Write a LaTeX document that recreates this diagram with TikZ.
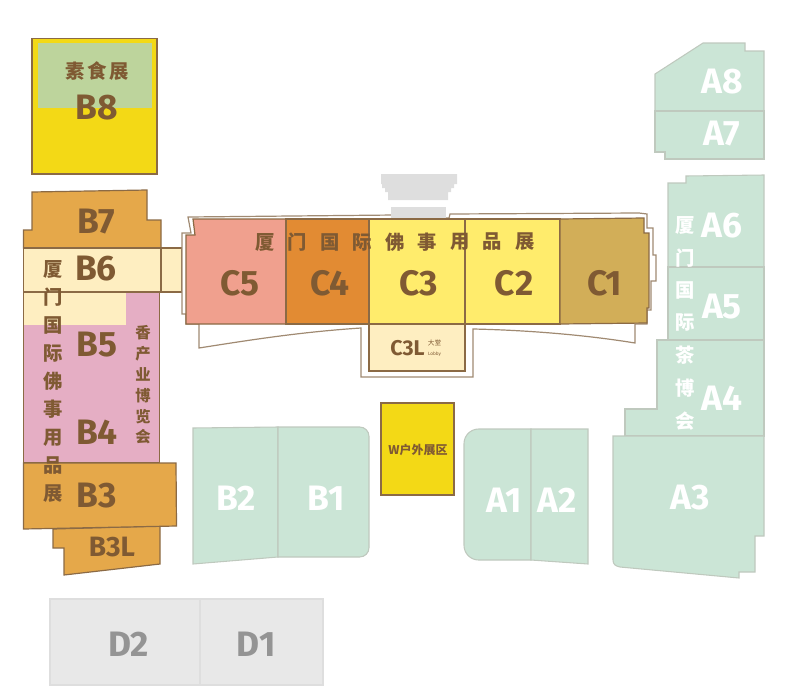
\documentclass[tikz,border=0pt]{standalone}
\usepackage{fontspec}
\setmainfont{Fira Sans}
\newfontfamily\cjk{Noto Sans CJK SC}
\definecolor{ink}{HTML}{7F5A33}
\definecolor{wall}{HTML}{8B6A45}
\definecolor{shell}{HTML}{A08A72}
\definecolor{mint}{HTML}{CBE5D6}
\definecolor{mintline}{HTML}{BFC9BE}
\definecolor{sun}{HTML}{F3D916}
\definecolor{sage}{HTML}{BDD49C}
\definecolor{ochre}{HTML}{E5A84A}
\definecolor{cream}{HTML}{FEEEC1}
\definecolor{rose}{HTML}{E5AEC4}
\definecolor{salmon}{HTML}{F0A08E}
\definecolor{amber}{HTML}{E28B33}
\definecolor{lemon}{HTML}{FFEC6C}
\definecolor{khaki}{HTML}{D2AE58}
\definecolor{ash}{HTML}{E8E8E8}
\definecolor{stage}{HTML}{DEDEDE}
\tikzset{
	hall/.style={font=\bfseries\fontsize{26.5}{27}\selectfont, text=ink, inner sep=0pt},
	hallpale/.style={hall, text=white},
	hallgrey/.style={hall, text=black!42},
	zh/.style={font=\cjk\bfseries\fontsize{14.5}{15}\selectfont, text=ink, inner sep=0pt},
	zhpale/.style={zh, text=white},
	zone/.style={draw=wall, line width=0.9pt},
	block/.style={draw=mintline, fill=mint, line width=0.8pt}
}
\begin{document}
\begin{tikzpicture}[x=0.75pt,y=-0.75pt]
	\useasboundingbox (0,0) rectangle (785,696);

	% B wing
	\fill [zone, fill=sun] (32,38.5) rectangle (157,174);
	\fill [sage] (37.5,43) rectangle (152,108);
	\draw [zone, fill=ochre] (32,192) -- (147,190) -- (147,220) -- (161,220) -- (161,248) -- (23.5,248) -- (23.5,230) -- (32,230) -- cycle;
	\draw [zone, fill=cream] (23.5,248) rectangle (161,292);
	\draw [zone, fill=cream] (161,248) rectangle (182,292);
	\draw [zone, fill=rose] (23.5,292) rectangle (159.5,463);
	\fill [cream] (24,292.6) rectangle (126,325);
	\draw [zone, fill=ochre] (53,529) -- (53,548) -- (64,548) -- (64,575) -- (160,564) -- (160,526) -- cycle;
	\draw [zone, fill=ochre] (23.5,463) -- (176,463) -- (176.5,526) -- (23.5,529) -- cycle;

	% shell of hall C
	\draw [shell, line width=0.9pt, fill=white] (188,217) -- (395,215) -- (395,218) -- (449,218) -- (450,214) -- (639,213) -- (647,214) -- (647,228) -- (653,228) -- (653,255) -- (656,255) -- (656,281) -- (651,281) -- (651,310) -- (647,310) -- (647,324) -- (635,324) -- (635,343) .. controls (580,334) and (520,330) .. (473,329) -- (473,377) -- (361,377) -- (361,328) .. controls (300,332) and (250,340) .. (199,348) -- (199,324) -- (186,324) -- (186,314) -- (182,314) -- (182,233) -- (191,233) -- cycle;

	% stage
	\fill [stage] (381,174) -- (457,174) -- (457,184) -- (454,184) -- (454,188) -- (451,188) -- (451,192) -- (448,192) -- (448,200) -- (388,200) -- (388,192) -- (385,192) -- (385,188) -- (382,188) -- (382,184) -- (381,184) -- cycle;
	\fill [stage] (391,207) rectangle (446,218);

	% hall C
	\draw [zone, fill=salmon] (193,219) -- (286,219) -- (286,324) -- (186,324) -- (186,235) -- (195,235) -- cycle;
	\draw [zone, fill=amber] (286,219) rectangle (369,324);
	\draw [zone, fill=lemon] (369,219) rectangle (465,324);
	\draw [zone, fill=lemon] (465,219) rectangle (560,324);
	\draw [zone, fill=khaki] (560,219) -- (644,218) -- (644,233) -- (649,233) -- (649,308) -- (647,308) -- (647,323) -- (560,324) -- cycle;
	\draw [zone, fill=cream] (369,324) rectangle (465,371);

	% A wing
	\draw [block] (655,74) -- (703,43) -- (745,43) -- (745,51) -- (764,51) -- (764,111) -- (655,111) -- cycle;
	\draw [block] (655,111) -- (764,111) -- (764,159) -- (665,159) -- (665,152) -- (655,152) -- cycle;
	\draw [block] (668,183) -- (686,183) -- (686,176) -- (764,175) -- (764,267) -- (668,267) -- cycle;
	\draw [block] (668,267) rectangle (764,341);
	\draw [block] (657,340) -- (764,340) -- (764,436) -- (625,436) -- (625,409) -- (657,409) -- cycle;
	\draw [block] (613,436) -- (764,436) -- (764,536) -- (755,536) -- (755,572) -- (739,572) -- (739,578) -- (620,567) .. controls (615,566) and (613,564) .. (613,560) -- cycle;

	% middle blocks
	\draw [block] (193,428) -- (278,427) -- (278,557) -- (193,564) -- cycle;
	\draw [block] (278,427) [rounded corners=7pt] -- (369,427) -- (369,557) [sharp corners] -- (278,557) -- cycle;
	\draw [block] (531,429) [rounded corners=11pt] -- (464,429) -- (464,560) [sharp corners] -- (531,560) -- cycle;
	\draw [block] (531,429) -- (588,429) -- (588,564) -- (531,560) -- cycle;
	\draw [zone, fill=sun] (381,403) rectangle (454,495);

	% D halls
	\draw [stage, fill=ash, line width=0.8pt] (50,599) rectangle (200,685);
	\draw [stage, fill=ash, line width=0.8pt] (200,599) rectangle (323,685);

	% hall names
	\foreach \name/\x/\y in {B8/97/108,B7/96/222,B6/96/269,B5/97/345,B4/97/432,B3/97/496,C5/240/283,C4/330/283,C3/419/283,C2/514/283,C1/605/283}
		\node [hall] (\name) at (\x,\y) {\name};
	\foreach \name/\x/\y in {A8/722/82,A7/722/134,A6/722/226,A5/722/307,A4/722/398,A3/690/498,B2/236/498,B1/326/498,A1/504/500,A2/557/500}
		\node [hallpale] (\name) at (\x,\y) {\name};
	\foreach \name/\x/\y in {D2/129/644,D1/256/644}
		\node [hallgrey] (\name) at (\x,\y) {\name};
	\node [hall, font=\bfseries\fontsize{21}{21}\selectfont] (B3L) at (112,547) {B3L};
	\node [hall, font=\bfseries\fontsize{16}{16}\selectfont] (C3L) at (407.5,348) {C3L};
	\node [zh, font=\cjk\fontsize{5}{5}\selectfont] (lobbyzh) at (434.5,343) {大堂};
	\node [zh, font=\fontsize{3.5}{4}\selectfont] (lobby) at (434.5,354) {Lobby};

	% show titles
	\node [zh] (vegan) at (97,71) {素\hspace{2pt}食\hspace{2pt}展};
	\node [zh, font=\cjk\bfseries\fontsize{9}{9}\selectfont] (outdoor) at (418,450) {W户外展区};
	\foreach \ch [count=\i] in {厦,门,国,际,佛,事,用,品,展}
		\node [zh] (west\i) at (53,{269+28.1*(\i-1)}) {\ch};
	\foreach \ch [count=\i] in {厦,门,国,际,佛,事,用,品,展}
		\node [zh] (mid\i) at ({265+32.5*(\i-1)},242) {\ch};
	\foreach \ch [count=\i] in {香,产,业,博,览,会}
		\node [zh, font=\cjk\bfseries\fontsize{11.5}{12}\selectfont] (incense\i) at (143,{333+20.8*(\i-1)}) {\ch};
	\foreach \ch [count=\i] in {厦,门,国,际,茶,博,会}
		\node [zhpale] (east\i) at (685,{225+32.6*(\i-1)}) {\ch};

\end{tikzpicture}
\end{document}
